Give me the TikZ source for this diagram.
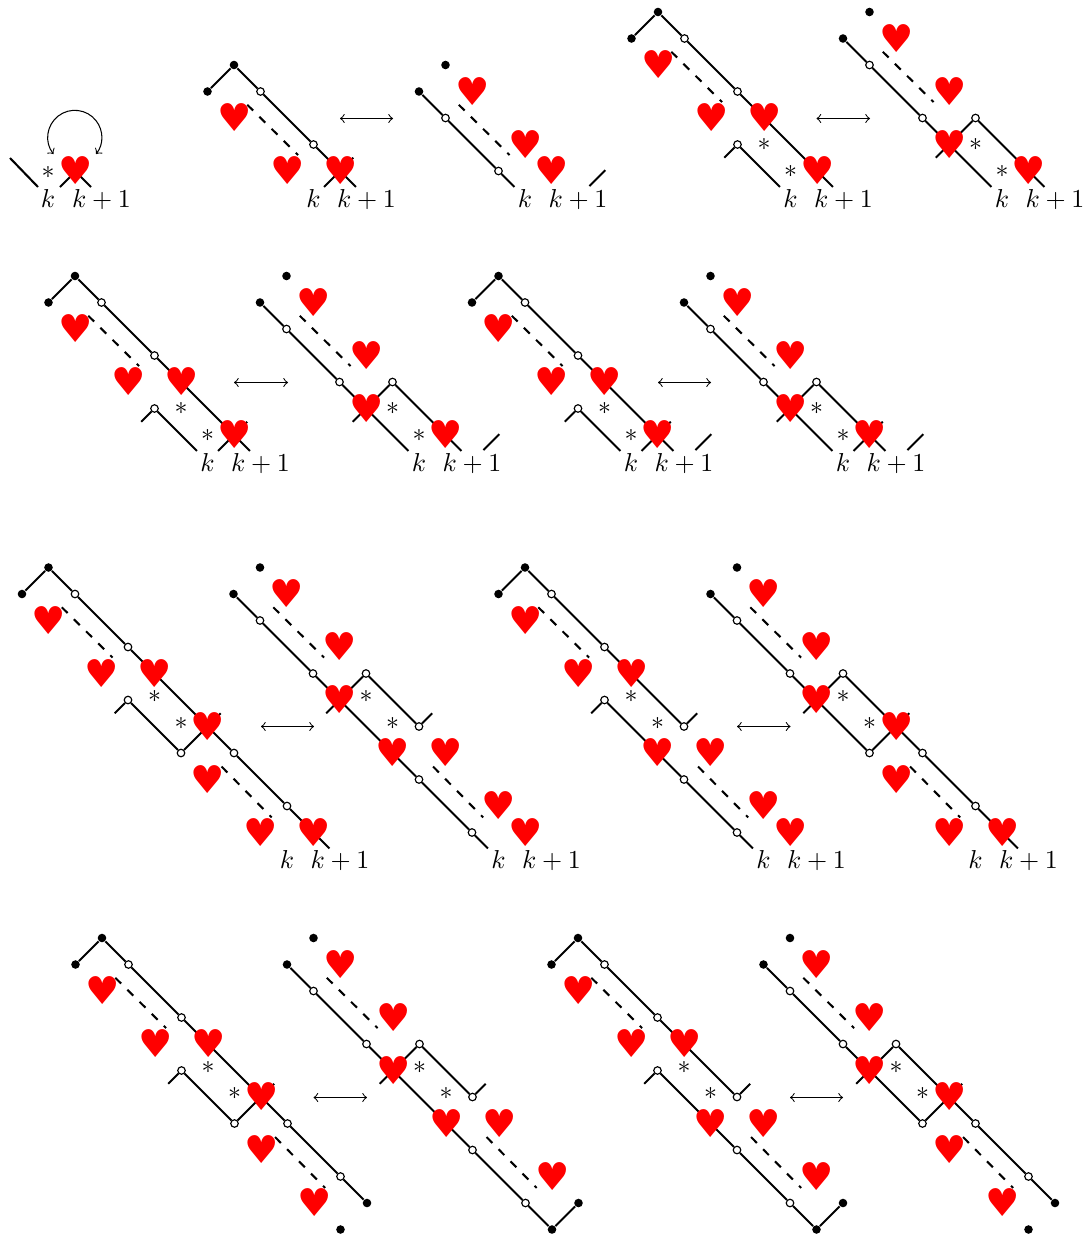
\documentclass[tikz,border=0pt]{standalone}
\usepackage{fontspec}
\newfontfamily\heartfont{DejaVu Sans}
\newcommand\hs{\heartfont\char"2665\relax}
\newcommand\hrtat[1]{\node[hrt] at (#1) {\hs};}
\newcommand\starat[1]{\node[st] at (#1) {$*$};}
\newcommand\topL{%
 \node[bdot] (p) at (0,0) {}; \node[bdot] (l) at (-1,1) {};
 \node[wdot] (w1) at (1,1) {}; \node[wdot] (w2) at (3,3) {};
 \coordinate (da) at (.5,1.5); \coordinate (db) at (2.42,3.4);
 \draw[ln] (l)--(p)--(w1)--(w2);
 \draw[dsh] (da)--(db);
 \hrtat{0,2}\hrtat{2,4}}
\newcommand\topR{%
 \node[bdot] (p) at (0,0) {}; \node[bdot] (l) at (-1,1) {};
 \node[wdot] (w1) at (0,2) {}; \node[wdot] (w2) at (2,4) {};
 \coordinate (da) at (.5,1.5); \coordinate (db) at (2.42,3.4);
 \draw[ln] (l)--(w1)--(w2);
 \draw[dsh] (da)--(db);
 \hrtat{1,1}\hrtat{3,3}}
\newcommand\labs[1]{%
 \node[lab] (k) at (#1-2,#1+.36) {$k$};
 \node[lab] (kk) at (#1,#1+.36) {$k+1$};}
\newcommand\crossSix{\coordinate (c1) at (5.4,6.6); \coordinate (c2) at (6.5,5.5); \draw[ln] (c1)--(c2);}
\newcommand\farStub{\coordinate (f1) at (7.43,6.57); \coordinate (f2) at (8.03,5.97); \draw[ln] (f1)--(f2);}
\newcommand\mLa{%
 \topL
 \node[wdot] (w3) at (3,5) {};
 \coordinate (e1) at (6.6,6.6); \coordinate (s1) at (2.5,5.5); \coordinate (e2) at (4.6,6.6);
 \draw[ln] (w2)--(e1); \draw[ln] (s1)--(w3)--(e2);}
\newcommand\mLb{\hrtat{4,4}\hrtat{6,6}\starat{4,5}\starat{5,6}\labs{7}}
\newcommand\mRa{%
 \topR
 \node[wdot] (w3) at (4,4) {};
 \coordinate (e1) at (4.6,6.6); \coordinate (s1) at (2.5,5.5); \coordinate (e2) at (6.6,6.6);
 \draw[ln] (w2)--(e1); \draw[ln] (s1)--(w3)--(e2);}
\newcommand\mRb{\hrtat{3,5}\hrtat{6,6}\starat{4,5}\starat{5,6}\labs{7}}
\newcommand\lowStars{\starat{4,4.87}\starat{5,5.87}}
\newcommand\dashTwo{\coordinate (dc) at (6.53,7.51); \coordinate (dd) at (8.42,9.43); \draw[dsh] (dc)--(dd);}
\newcommand\finA{\coordinate (e) at (10.6,10.6); \draw[ln] (w4)--(e); \hrtat{10,10}\labs{11}}
\newcommand\finB{\node[bdot] (q) at (10,10) {}; \node[bdot] (r) at (9,11) {}; \draw[ln] (w4)--(q);}
\newcommand\finC{\coordinate (e) at (8.6,10.6); \draw[ln] (w4)--(e); \hrtat{10,10}\labs{11}}
\newcommand\finD{\node[bdot] (q) at (9,11) {}; \node[bdot] (r) at (10,10) {}; \draw[ln] (w4)--(q)--(r);}
\newcommand\bLa{%
 \topL
 \node[wdot] (w3) at (7,7) {}; \node[wdot] (w4) at (9,9) {};
 \node[wdot] (w5) at (3,5) {}; \node[wdot] (w6) at (5,7) {};
 \coordinate (s) at (2.5,5.5); \coordinate (t) at (6.5,5.5);
 \draw[ln] (w2)--(w3)--(w4); \draw[ln] (s)--(w5)--(w6)--(t);
 \dashTwo
 \hrtat{4,4}\hrtat{6,6}\hrtat{6,8}\hrtat{8,10}\lowStars}
\newcommand\bRa{%
 \topR
 \node[wdot] (w3) at (6,8) {}; \node[wdot] (w4) at (8,10) {};
 \node[wdot] (w5) at (4,4) {}; \node[wdot] (w6) at (6,6) {};
 \coordinate (s) at (2.5,5.5); \coordinate (t) at (6.5,5.5);
 \draw[ln] (w2)--(w3)--(w4); \draw[ln] (s)--(w5)--(w6)--(t);
 \dashTwo
 \hrtat{3,5}\hrtat{5,7}\hrtat{7,7}\hrtat{9,9}\lowStars}
\newcommand\cLa{%
 \topL
 \node[wdot] (w3) at (6,6) {}; \node[wdot] (w5) at (3,5) {};
 \node[wdot] (w6) at (6,8) {}; \node[wdot] (w4) at (8,10) {};
 \coordinate (s) at (2.5,5.5); \coordinate (t) at (6.5,5.5);
 \draw[ln] (w2)--(w3)--(t); \draw[ln] (s)--(w5)--(w6)--(w4);
 \dashTwo
 \hrtat{4,4}\hrtat{5,7}\hrtat{7,7}\hrtat{9,9}\lowStars}
\newcommand\cRa{%
 \topR
 \node[wdot] (w3) at (5,7) {}; \node[wdot] (w5) at (4,4) {};
 \node[wdot] (w6) at (7,7) {}; \node[wdot] (w4) at (9,9) {};
 \coordinate (s) at (2.5,5.5); \coordinate (t) at (6.5,5.5);
 \draw[ln] (w2)--(w3)--(t); \draw[ln] (s)--(w5)--(w6)--(w4);
 \dashTwo
 \hrtat{3,5}\hrtat{6,6}\hrtat{6,8}\hrtat{8,10}\lowStars}
\tikzset{
 ln/.style={line width=.8pt},
 dsh/.style={line width=.8pt,dash pattern=on 3.2pt off 3.4pt},
 thinarrow/.style={<->,line width=.4pt},
 bdot/.style={circle,fill=black,inner sep=0pt,minimum size=3.3pt},
 wdot/.style={circle,draw=black,line width=.45pt,fill=white,inner sep=0pt,minimum size=2.9pt},
 hrt/.style={inner sep=0pt,text=red,xshift=.25pt,font=\fontsize{14.8}{15}\selectfont},
 st/.style={inner sep=0pt},
 lab/.style={inner sep=0pt,anchor=base},
 pics/dA/.style={code={\topL
   \coordinate (e) at (4.6,4.6); \coordinate (c1) at (3.4,4.6); \coordinate (c2) at (4.5,3.5);
   \draw[ln] (w2)--(e); \draw[ln] (c1)--(c2); \hrtat{4,4}\labs{5}}},
 pics/dB/.style={code={\topR
   \coordinate (e) at (2.6,4.6); \coordinate (f1) at (5.43,4.57); \coordinate (f2) at (6.03,3.97);
   \draw[ln] (w2)--(e); \draw[ln] (f1)--(f2); \hrtat{4,4}\labs{5}}},
 pics/mL/.style={code={\mLa\mLb}},
 pics/mR/.style={code={\mRa\mRb}},
 pics/mLc/.style={code={\mLa\crossSix\mLb}},
 pics/mRs/.style={code={\mRa\farStub\mRb}},
 pics/mLcs/.style={code={\mLa\crossSix\farStub\mLb}},
 pics/mRcs/.style={code={\mRa\crossSix\farStub\mRb}},
 pics/bLA/.style={code={\bLa\finA}},
 pics/bRA/.style={code={\bRa\finC}},
 pics/cLA/.style={code={\cLa\finC}},
 pics/cRA/.style={code={\cRa\finA}},
 pics/bLB/.style={code={\bLa\finB}},
 pics/bRB/.style={code={\bRa\finD}},
 pics/cLB/.style={code={\cLa\finD}},
 pics/cRB/.style={code={\cRa\finB}},
}
\newcommand\dbl[4]{\coordinate (x#1a) at ({#2/26.5},{#4/26.5}); \coordinate (x#1b) at ({#3/26.5},{#4/26.5}); \draw[thinarrow] (x#1a)--(x#1b);}
\newcommand\dia[4]{\pic (#1) at ({#2/26.5},{#3/26.5}) {#4};}
\begin{document}
\begin{tikzpicture}[x=10.23pt,y=-10.23pt]
\useasboundingbox (0,0) rectangle ({1087/26.5},{1236/26.5});
% first small figure
\coordinate (z1) at ({10/26.5},{158/26.5}); \coordinate (z2) at ({38/26.5},{187/26.5});
\draw[ln] (z1)--(z2);
\coordinate (z3) at ({60/26.5},{187/26.5}); \coordinate (z4) at ({75.5/26.5},{171.5/26.5}); \coordinate (z5) at ({91/26.5},{187/26.5});
\draw[ln] (z3)--(z4)--(z5);
\node[st] (zs) at ({48/26.5},{172/26.5}) {$*$};
\node[hrt] (zh) at ({75/26.5},{171/26.5}) {\hs};
\node[lab] (zk) at ({48/26.5},{207/26.5}) {$k$};
\node[lab] (zkk) at ({101.5/26.5},{207/26.5}) {$k+1$};
\coordinate (za) at ({53.5/26.5},{154/26.5});
\draw[thinarrow] (za) arc[start angle=142,end angle=398,radius=1.02];
%
\dia{d1}{234}{65}{dA}
\dia{d2}{445.5}{65}{dB}
\dia{d3}{658}{12}{mL}
\dia{d4}{869.5}{12}{mR}
\dia{d5}{75}{276}{mLc}
\dia{d6}{286.5}{276}{mRs}
\dia{d7}{498.5}{276}{mLcs}
\dia{d8}{710.5}{276}{mRcs}
\dia{d9}{48.5}{567.5}{bLA}
\dia{d10}{260}{567.5}{bRA}
\dia{d11}{525}{567.5}{cLA}
\dia{d12}{737}{567.5}{cRA}
\dia{d13}{102}{938}{bLB}
\dia{d14}{313.5}{938}{bRB}
\dia{d15}{578}{938}{cLB}
\dia{d16}{790}{938}{cRB}
\dbl{a}{340}{393}{118.5}
\dbl{b}{816.5}{870}{118.5}
\dbl{c}{234}{288}{382.5}
\dbl{d}{658}{711}{382.5}
\dbl{e}{261}{314}{726.5}
\dbl{f}{737}{790.5}{726.5}
\dbl{g}{313.5}{367}{1097.5}
\dbl{h}{790}{843}{1097.5}
\end{tikzpicture}
\end{document}
